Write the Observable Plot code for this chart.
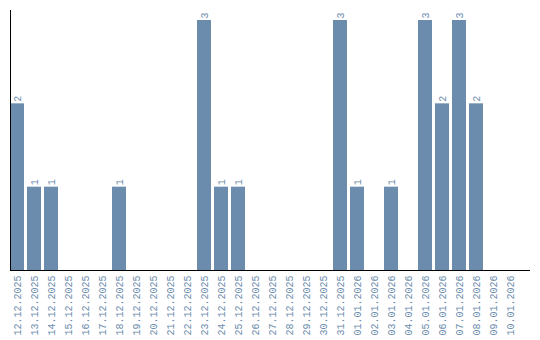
<!DOCTYPE html>
<html>
<head>
<meta charset="utf-8">
<script src="https://cdn.jsdelivr.net/npm/d3@7"></script>
<script src="https://cdn.jsdelivr.net/npm/@observablehq/plot@0.6"></script>
<style>
  html, body { margin: 0; padding: 0; background: #fff; }
</style>
</head>
<body>
<div id="chart"></div>
<script>
const dates = [
  "12.12.2025","13.12.2025","14.12.2025","15.12.2025","16.12.2025","17.12.2025",
  "18.12.2025","19.12.2025","20.12.2025","21.12.2025","22.12.2025","23.12.2025",
  "24.12.2025","25.12.2025","26.12.2025","27.12.2025","28.12.2025","29.12.2025",
  "30.12.2025","31.12.2025","01.01.2026","02.01.2026","03.01.2026","04.01.2026",
  "05.01.2026","06.01.2026","07.01.2026","08.01.2026","09.01.2026","10.01.2026"
];
const counts = [
  2,1,1,0,0,0,
  1,0,0,0,0,3,
  1,1,0,0,0,0,
  0,3,1,0,1,0,
  3,2,3,2,0,0
];

const data = dates.map((d, i) => ({date: d, count: counts[i]}));
const nonZero = data.filter(d => d.count > 0);

const barColor = "#6b8cac";
const textColor = "#6b8cac";
const font = "Liberation Mono";

const chart = Plot.plot({
  width: 540,
  height: 340,
  marginTop: 10,
  marginBottom: 70,
  marginLeft: 10,
  marginRight: 10,
  style: {fontFamily: font, fontSize: "10px", background: "#fff"},
  x: {domain: dates, range: [10, 517], paddingInner: 3 / 17, paddingOuter: 0, align: 0, label: null},
  y: {domain: [0, 3.12], axis: null},
  marks: [
    Plot.barY(data, {x: "date", y: "count", fill: barColor}),
    Plot.text(nonZero, {
      x: "date", y: "count", text: d => String(d.count),
      rotate: -90, textAnchor: "start", dy: -2, fill: textColor,
      fontSize: 10, fontFamily: font
    }),
    Plot.axisX({
      tickSize: 0, tickRotate: -90, tickPadding: 5, label: null,
      fill: textColor, fontSize: 10, fontFamily: font
    }),
    Plot.ruleY([0], {stroke: "#000", strokeWidth: 1}),
    Plot.frame({anchor: "left", stroke: "#000", strokeWidth: 1})
  ]
});

document.getElementById("chart").appendChild(chart);
</script>
</body>
</html>
